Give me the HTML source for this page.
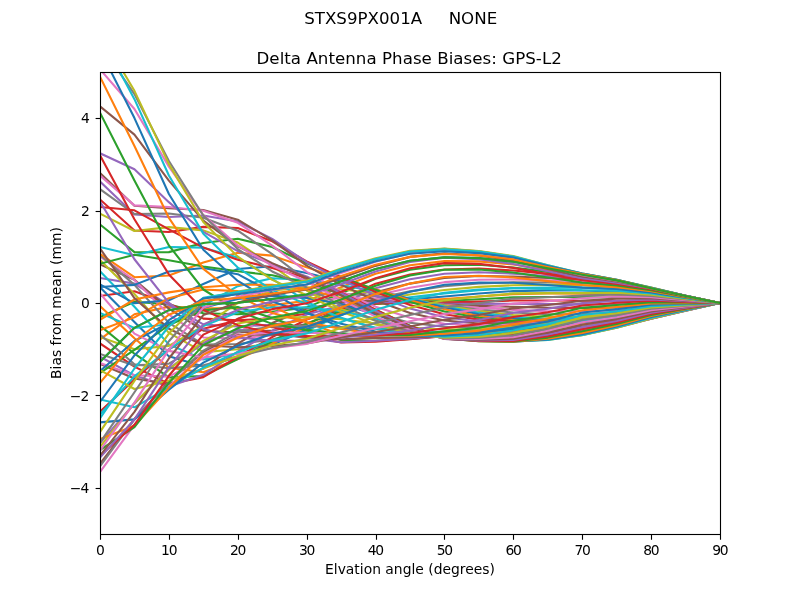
<!DOCTYPE html>
<html lang="en"><head><meta charset="utf-8"><title>STXS9PX001A NONE - Delta Antenna Phase Biases: GPS-L2</title>
<style>html,body{margin:0;padding:0;background:#fff;overflow:hidden}svg{display:block}text{font-family:"DejaVu Sans","Liberation Sans",sans-serif;fill:#000;white-space:pre}.t10{font-size:13.889px}.t12{font-size:16.667px}.m{text-anchor:middle}.e{text-anchor:end}.ln polyline{fill:none;stroke-width:2.0833;stroke-linejoin:round;stroke-linecap:square}.tk line{stroke:#000;stroke-width:1.1111}</style></head>
<body>
<svg width="800" height="600" viewBox="0 0 800 600">
<rect x="0" y="0" width="800" height="600" fill="#fff"/>
<defs><clipPath id="axclip"><rect x="100" y="72" width="620" height="462"/></clipPath></defs>
<g class="tk">
<line x1="100.5" y1="534.5" x2="100.5" y2="539.75"/>
<line x1="169.5" y1="534.5" x2="169.5" y2="539.75"/>
<line x1="238.5" y1="534.5" x2="238.5" y2="539.75"/>
<line x1="307.5" y1="534.5" x2="307.5" y2="539.75"/>
<line x1="376.5" y1="534.5" x2="376.5" y2="539.75"/>
<line x1="444.5" y1="534.5" x2="444.5" y2="539.75"/>
<line x1="513.5" y1="534.5" x2="513.5" y2="539.75"/>
<line x1="582.5" y1="534.5" x2="582.5" y2="539.75"/>
<line x1="651.5" y1="534.5" x2="651.5" y2="539.75"/>
<line x1="720.5" y1="534.5" x2="720.5" y2="539.75"/>
<line x1="95.6" y1="488.5" x2="100.5" y2="488.5"/>
<line x1="95.6" y1="395.5" x2="100.5" y2="395.5"/>
<line x1="95.6" y1="303.5" x2="100.5" y2="303.5"/>
<line x1="95.6" y1="211.5" x2="100.5" y2="211.5"/>
<line x1="95.6" y1="118.5" x2="100.5" y2="118.5"/>
</g>
<g class="t10 m">
<text x="100.40" y="555.3">0</text>
<text x="169.29" y="555.3" textLength="16.35" lengthAdjust="spacing">10</text>
<text x="238.18" y="555.3" textLength="16.35" lengthAdjust="spacing">20</text>
<text x="307.07" y="555.3" textLength="16.35" lengthAdjust="spacing">30</text>
<text x="375.96" y="555.3" textLength="16.35" lengthAdjust="spacing">40</text>
<text x="444.84" y="555.3" textLength="16.35" lengthAdjust="spacing">50</text>
<text x="513.73" y="555.3" textLength="16.35" lengthAdjust="spacing">60</text>
<text x="582.62" y="555.3" textLength="16.35" lengthAdjust="spacing">70</text>
<text x="651.51" y="555.3" textLength="16.35" lengthAdjust="spacing">80</text>
<text x="720.40" y="555.3" textLength="16.35" lengthAdjust="spacing">90</text>
<text x="410" y="574.3">Elvation angle (degrees)</text>
</g>
<g class="t10 e">
<text x="89.4" y="493.08" textLength="19.6" lengthAdjust="spacing">−4</text>
<text x="89.4" y="400.68" textLength="19.6" lengthAdjust="spacing">−2</text>
<text x="89.8" y="308.28">0</text>
<text x="89.8" y="215.88">2</text>
<text x="89.8" y="123.48">4</text>
</g>
<text class="t10 m" x="61.36" y="303" transform="rotate(-90 61.36 303)">Bias from mean (mm)</text>
<text class="t12 m" x="409.15" y="63.67" textLength="305.3" lengthAdjust="spacing">Delta Antenna Phase Biases: GPS-L2</text>
<text class="t12 m" x="400.7" y="23.8" xml:space="preserve">STXS9PX001A     NONE</text>
<g class="ln" clip-path="url(#axclip)">
<polyline stroke="#1f77b4" points="100.00,361.75 134.44,327.82 168.89,310.18 203.33,304.13 237.78,302.78 272.22,298.95 306.67,294.56 341.11,281.22 375.56,269.04 410.00,260.77 444.44,257.34 478.89,258.15 513.33,261.78 547.78,268.34 582.22,274.65 616.67,280.38 651.11,288.33 685.56,295.97 720.00,303.00"/>
<polyline stroke="#ff7f0e" points="100.00,339.41 134.44,314.25 168.89,306.64 203.33,308.41 237.78,308.27 272.22,305.13 306.67,300.87 341.11,287.22 375.56,273.83 410.00,265.17 444.44,261.12 478.89,261.34 513.33,264.53 547.78,270.03 582.22,275.44 616.67,280.80 651.11,288.46 685.56,295.94 720.00,303.00"/>
<polyline stroke="#2ca02c" points="100.00,317.03 134.44,301.78 168.89,304.40 203.33,313.29 237.78,314.20 272.22,311.72 306.67,307.40 341.11,293.40 375.56,278.80 410.00,269.84 444.44,265.19 478.89,264.82 513.33,267.50 547.78,271.90 582.22,276.36 616.67,281.28 651.11,288.52 685.56,295.86 720.00,303.00"/>
<polyline stroke="#d62728" points="100.00,296.03 134.44,291.27 168.89,303.79 203.33,318.65 237.78,320.31 272.22,318.35 306.67,313.67 341.11,299.28 375.56,283.65 410.00,274.58 444.44,269.42 478.89,268.48 513.33,270.56 547.78,273.88 582.22,277.38 616.67,281.82 651.11,288.56 685.56,295.77 720.00,303.00"/>
<polyline stroke="#9467bd" points="100.00,277.97 134.44,283.64 168.89,305.12 203.33,324.45 237.78,326.46 272.22,324.67 306.67,319.28 341.11,304.48 375.56,288.16 410.00,279.21 444.44,273.71 478.89,272.22 513.33,273.62 547.78,275.93 582.22,278.53 616.67,282.46 651.11,288.62 685.56,295.71 720.00,303.00"/>
<polyline stroke="#8c564b" points="100.00,264.35 134.44,279.69 168.89,308.68 203.33,330.71 237.78,332.54 272.22,330.44 306.67,323.92 341.11,308.73 375.56,292.16 410.00,283.61 444.44,277.98 478.89,275.99 513.33,276.61 547.78,278.02 582.22,279.82 616.67,283.26 651.11,288.80 685.56,295.72 720.00,303.00"/>
<polyline stroke="#e377c2" points="100.00,256.41 134.44,280.01 168.89,314.59 203.33,337.46 237.78,338.45 272.22,335.44 306.67,327.40 341.11,311.87 375.56,295.59 410.00,287.68 444.44,282.16 478.89,279.72 513.33,279.53 547.78,280.17 582.22,281.32 616.67,284.27 651.11,289.19 685.56,295.87 720.00,303.00"/>
<polyline stroke="#7f7f7f" points="100.00,254.91 134.44,284.84 168.89,322.77 203.33,344.65 237.78,344.08 272.22,339.50 306.67,329.64 341.11,313.90 375.56,298.40 410.00,291.35 444.44,286.18 478.89,283.37 513.33,282.39 547.78,282.42 582.22,283.08 616.67,285.59 651.11,289.87 685.56,296.21 720.00,303.00"/>
<polyline stroke="#bcbd22" points="100.00,260.02 134.44,293.97 168.89,332.91 203.33,352.13 237.78,349.26 272.22,342.50 306.67,330.64 341.11,314.87 375.56,300.62 410.00,294.55 444.44,289.95 478.89,286.91 513.33,285.24 547.78,284.84 582.22,285.16 616.67,287.26 651.11,290.93 685.56,296.76 720.00,303.00"/>
<polyline stroke="#17becf" points="100.00,271.19 134.44,306.72 168.89,344.40 203.33,359.57 237.78,353.74 272.22,344.31 306.67,330.46 341.11,314.92 375.56,302.27 410.00,297.25 444.44,293.40 478.89,290.29 513.33,288.13 547.78,287.47 582.22,287.61 616.67,289.33 651.11,292.39 685.56,297.55 720.00,303.00"/>
<polyline stroke="#1f77b4" points="100.00,287.18 134.44,321.96 168.89,356.37 203.33,366.49 237.78,357.17 272.22,344.81 306.67,329.18 341.11,314.18 375.56,303.36 410.00,299.39 444.44,296.44 478.89,293.48 513.33,291.09 547.78,290.36 582.22,290.43 616.67,291.81 651.11,294.25 685.56,298.56 720.00,303.00"/>
<polyline stroke="#ff7f0e" points="100.00,306.11 134.44,338.20 168.89,367.75 203.33,372.24 237.78,359.12 272.22,343.86 306.67,326.89 341.11,312.80 375.56,303.92 410.00,300.96 444.44,299.01 478.89,296.45 513.33,294.15 547.78,293.52 582.22,293.61 616.67,294.65 651.11,296.46 685.56,299.75 720.00,303.00"/>
<polyline stroke="#2ca02c" points="100.00,325.67 134.44,353.70 168.89,377.36 203.33,376.04 237.78,359.14 272.22,341.31 306.67,323.66 341.11,310.86 375.56,303.92 410.00,301.93 444.44,301.07 478.89,299.18 513.33,297.31 547.78,296.92 582.22,297.06 616.67,297.77 651.11,298.92 685.56,301.06 720.00,303.00"/>
<polyline stroke="#d62728" points="100.00,343.37 134.44,366.65 168.89,383.99 203.33,377.14 237.78,356.78 272.22,337.04 306.67,319.53 341.11,308.40 375.56,303.35 410.00,302.32 444.44,302.61 478.89,301.66 513.33,300.54 547.78,300.50 582.22,300.69 616.67,301.04 651.11,301.49 685.56,302.42 720.00,303.00"/>
<polyline stroke="#9467bd" points="100.00,356.78 134.44,375.38 168.89,386.57 203.33,374.83 237.78,351.66 272.22,330.96 306.67,314.51 341.11,305.43 375.56,302.22 410.00,302.20 444.44,303.67 478.89,303.89 513.33,303.76 547.78,304.16 582.22,304.35 616.67,304.32 651.11,304.03 685.56,303.74 720.00,303.00"/>
<polyline stroke="#8c564b" points="100.00,363.83 134.44,378.55 168.89,384.27 203.33,368.60 237.78,343.59 272.22,323.06 306.67,308.66 341.11,301.97 375.56,300.55 410.00,301.65 444.44,304.36 478.89,305.90 513.33,306.90 547.78,307.77 582.22,307.88 616.67,307.42 651.11,306.37 685.56,304.94 720.00,303.00"/>
<polyline stroke="#e377c2" points="100.00,363.10 134.44,375.30 168.89,376.63 203.33,358.22 237.78,332.58 272.22,313.48 306.67,302.05 341.11,298.04 375.56,298.43 410.00,300.84 444.44,304.80 478.89,307.73 513.33,309.86 547.78,311.17 582.22,311.12 616.67,310.19 651.11,308.38 685.56,305.94 720.00,303.00"/>
<polyline stroke="#7f7f7f" points="100.00,354.01 134.44,365.40 168.89,363.67 203.33,343.84 237.78,318.92 272.22,302.48 306.67,294.87 341.11,293.75 375.56,296.03 410.00,299.95 444.44,305.17 478.89,309.43 513.33,312.56 547.78,314.22 582.22,313.93 616.67,312.49 651.11,309.96 685.56,306.70 720.00,303.00"/>
<polyline stroke="#bcbd22" points="100.00,336.87 134.44,349.27 168.89,345.87 203.33,325.98 237.78,303.18 272.22,290.52 306.67,287.37 341.11,289.30 375.56,293.59 410.00,299.21 444.44,305.65 478.89,311.05 513.33,314.94 547.78,316.81 582.22,316.20 616.67,314.23 651.11,311.04 685.56,307.21 720.00,303.00"/>
<polyline stroke="#17becf" points="100.00,312.96 134.44,328.01 168.89,324.23 203.33,305.59 237.78,286.18 272.22,278.21 306.67,279.95 341.11,284.99 375.56,291.41 410.00,298.85 444.44,306.41 478.89,312.65 513.33,316.96 547.78,318.85 582.22,317.87 616.67,315.38 651.11,311.64 685.56,307.46 720.00,303.00"/>
<polyline stroke="#1f77b4" points="100.00,284.38 134.44,303.29 168.89,300.19 203.33,283.94 237.78,268.98 272.22,266.30 306.67,273.10 341.11,281.22 375.56,289.83 410.00,299.11 444.44,307.59 478.89,314.29 513.33,318.61 547.78,320.33 582.22,318.94 616.67,315.96 651.11,311.79 685.56,307.50 720.00,303.00"/>
<polyline stroke="#ff7f0e" points="100.00,253.86 134.44,277.22 168.89,275.50 203.33,262.53 237.78,252.77 272.22,255.64 306.67,267.37 341.11,278.43 375.56,289.21 410.00,300.14 444.44,309.27 478.89,315.99 513.33,319.93 547.78,321.27 582.22,319.46 616.67,316.06 651.11,311.61 685.56,307.38 720.00,303.00"/>
<polyline stroke="#2ca02c" points="100.00,224.51 134.44,252.18 168.89,252.12 203.33,242.99 237.78,238.74 272.22,247.05 306.67,263.33 341.11,277.09 375.56,289.84 410.00,302.07 444.44,311.48 478.89,317.77 513.33,320.99 547.78,321.76 582.22,319.54 616.67,315.81 651.11,311.23 685.56,307.18 720.00,303.00"/>
<polyline stroke="#d62728" points="100.00,199.46 134.44,230.53 168.89,232.01 203.33,226.88 237.78,228.00 272.22,241.29 306.67,261.49 341.11,277.57 375.56,291.91 410.00,304.91 444.44,314.16 478.89,319.64 513.33,321.88 547.78,321.93 582.22,319.34 616.67,315.37 651.11,310.78 685.56,306.97 720.00,303.00"/>
<polyline stroke="#9467bd" points="100.00,181.57 134.44,214.46 168.89,216.94 203.33,215.55 237.78,221.45 272.22,238.96 306.67,262.23 341.11,280.14 375.56,295.50 410.00,308.60 444.44,317.20 478.89,321.55 513.33,322.69 547.78,321.96 582.22,319.03 616.67,314.92 651.11,310.43 685.56,306.82 720.00,303.00"/>
<polyline stroke="#8c564b" points="100.00,173.10 134.44,205.70 168.89,208.32 203.33,209.99 237.78,219.65 272.22,240.37 306.67,265.71 341.11,284.85 375.56,300.51 410.00,312.96 444.44,320.44 478.89,323.49 513.33,323.52 547.78,322.00 582.22,318.79 616.67,314.62 651.11,310.27 685.56,306.78 720.00,303.00"/>
<polyline stroke="#e377c2" points="100.00,175.50 134.44,205.41 168.89,207.08 203.33,210.72 237.78,222.81 272.22,245.55 306.67,271.85 341.11,291.55 375.56,306.69 410.00,317.76 444.44,323.69 478.89,325.41 513.33,324.46 547.78,322.23 582.22,318.77 616.67,314.62 651.11,310.41 685.56,306.88 720.00,303.00"/>
<polyline stroke="#7f7f7f" points="100.00,189.21 134.44,213.98 168.89,213.49 203.33,217.72 237.78,230.67 272.22,254.16 306.67,280.32 341.11,299.82 375.56,313.63 410.00,322.69 444.44,326.77 478.89,327.27 513.33,325.55 547.78,322.76 582.22,319.10 616.67,315.00 651.11,310.86 685.56,307.14 720.00,303.00"/>
<polyline stroke="#bcbd22" points="100.00,213.60 134.44,231.00 168.89,227.16 203.33,230.39 237.78,242.58 272.22,265.56 306.67,290.50 341.11,309.06 375.56,320.81 410.00,327.42 444.44,329.51 478.89,329.02 513.33,326.83 547.78,323.68 582.22,319.87 616.67,315.79 651.11,311.62 685.56,307.54 720.00,303.00"/>
<polyline stroke="#17becf" points="100.00,247.02 134.44,255.27 168.89,247.02 203.33,247.65 237.78,257.52 272.22,278.81 306.67,301.58 341.11,318.50 375.56,327.65 410.00,331.64 444.44,331.80 478.89,330.65 513.33,328.29 547.78,325.02 582.22,321.07 616.67,316.98 651.11,312.63 685.56,308.05 720.00,303.00"/>
<polyline stroke="#1f77b4" points="100.00,286.93 134.44,284.90 168.89,271.42 203.33,267.96 237.78,274.19 272.22,292.78 306.67,312.60 341.11,327.30 375.56,333.59 410.00,335.09 444.44,333.58 478.89,332.15 513.33,329.89 547.78,326.73 582.22,322.68 616.67,318.49 651.11,313.81 685.56,308.61 720.00,303.00"/>
<polyline stroke="#ff7f0e" points="100.00,330.12 134.44,317.39 168.89,298.21 203.33,289.51 237.78,291.15 272.22,306.25 306.67,322.57 341.11,334.65 375.56,338.13 410.00,337.56 444.44,334.84 478.89,333.50 513.33,331.59 547.78,328.74 582.22,324.61 616.67,320.21 651.11,315.05 685.56,309.19 720.00,303.00"/>
<polyline stroke="#2ca02c" points="100.00,372.96 134.44,349.92 168.89,325.00 203.33,310.39 237.78,306.93 272.22,318.03 306.67,330.59 341.11,339.88 375.56,340.91 410.00,338.96 444.44,335.65 478.89,334.74 513.33,333.32 547.78,330.92 582.22,326.72 616.67,322.00 651.11,316.24 685.56,309.73 720.00,303.00"/>
<polyline stroke="#d62728" points="100.00,411.75 134.44,379.53 168.89,349.32 203.33,328.74 237.78,320.19 272.22,327.11 306.67,335.92 341.11,342.49 375.56,341.76 410.00,339.28 444.44,336.09 478.89,335.86 513.33,335.01 547.78,333.12 582.22,328.87 616.67,323.73 651.11,317.28 685.56,310.18 720.00,303.00"/>
<polyline stroke="#9467bd" points="100.00,443.02 134.44,403.39 168.89,368.85 203.33,342.91 237.78,329.83 272.22,332.71 306.67,338.10 341.11,342.29 375.56,340.68 410.00,338.64 444.44,336.29 478.89,336.88 513.33,336.60 547.78,335.20 582.22,330.89 616.67,325.25 651.11,318.09 685.56,310.51 720.00,303.00"/>
<polyline stroke="#8c564b" points="100.00,463.83 134.44,419.08 168.89,381.66 203.33,351.67 237.78,335.11 272.22,334.42 306.67,336.98 341.11,339.38 375.56,337.89 410.00,337.20 444.44,336.37 478.89,337.82 513.33,338.03 547.78,337.01 582.22,332.65 616.67,326.46 651.11,318.62 685.56,310.71 720.00,303.00"/>
<polyline stroke="#e377c2" points="100.00,472.02 134.44,424.78 168.89,386.39 203.33,354.28 237.78,335.68 272.22,332.21 306.67,332.73 341.11,334.13 375.56,333.76 410.00,335.22 444.44,336.44 478.89,338.68 513.33,339.27 547.78,338.45 582.22,334.00 616.67,327.29 651.11,318.84 685.56,310.77 720.00,303.00"/>
<polyline stroke="#7f7f7f" points="100.00,466.41 134.44,419.48 168.89,382.38 203.33,350.54 237.78,331.65 272.22,326.44 306.67,325.87 341.11,327.16 375.56,328.80 410.00,332.97 444.44,336.57 478.89,339.44 513.33,340.27 547.78,339.44 582.22,334.87 616.67,327.70 651.11,318.76 685.56,310.69 720.00,303.00"/>
<polyline stroke="#bcbd22" points="100.00,446.91 134.44,403.06 168.89,369.75 203.33,340.85 237.78,323.54 272.22,317.79 306.67,317.14 341.11,319.25 375.56,323.56 410.00,330.71 444.44,336.80 478.89,340.09 513.33,341.04 547.78,339.94 582.22,335.19 616.67,327.68 651.11,318.40 685.56,310.49 720.00,303.00"/>
<polyline stroke="#17becf" points="100.00,414.48 134.44,376.33 168.89,349.39 203.33,326.11 237.78,312.23 272.22,307.23 306.67,307.47 341.11,311.25 375.56,318.61 410.00,328.70 444.44,337.13 478.89,340.60 513.33,341.54 547.78,339.97 582.22,334.96 616.67,327.26 651.11,317.80 685.56,310.18 720.00,303.00"/>
<polyline stroke="#1f77b4" points="100.00,371.13 134.44,341.00 168.89,322.89 203.33,307.68 237.78,298.87 272.22,295.86 306.67,297.86 341.11,303.97 375.56,314.43 410.00,327.13 444.44,337.54 478.89,340.95 513.33,341.79 547.78,339.55 582.22,334.19 616.67,326.48 651.11,317.01 685.56,309.79 720.00,303.00"/>
<polyline stroke="#ff7f0e" points="100.00,319.72 134.44,299.50 168.89,292.37 203.33,287.23 237.78,284.78 272.22,284.85 306.67,289.24 341.11,298.11 375.56,311.41 410.00,326.14 444.44,337.97 478.89,341.12 513.33,341.76 547.78,338.73 582.22,332.95 616.67,325.39 651.11,316.07 685.56,309.34 720.00,303.00"/>
<polyline stroke="#2ca02c" points="100.00,263.72 134.44,254.84 168.89,260.34 203.33,266.58 237.78,271.30 272.22,275.29 306.67,282.43 341.11,294.18 375.56,309.79 410.00,325.79 444.44,338.37 478.89,341.10 513.33,341.46 547.78,337.59 582.22,331.30 616.67,324.07 651.11,315.01 685.56,308.83 720.00,303.00"/>
<polyline stroke="#d62728" points="100.00,206.96 134.44,210.32 168.89,229.43 203.33,247.56 237.78,259.71 272.22,268.09 306.67,278.04 341.11,292.46 375.56,309.63 410.00,326.09 444.44,338.68 478.89,340.87 513.33,340.86 547.78,336.18 582.22,329.32 616.67,322.55 651.11,313.87 685.56,308.29 720.00,303.00"/>
<polyline stroke="#9467bd" points="100.00,153.32 134.44,169.24 168.89,202.14 203.33,231.81 237.78,251.08 272.22,263.91 306.67,276.41 341.11,292.98 375.56,310.88 410.00,326.97 444.44,338.86 478.89,340.44 513.33,339.96 547.78,334.57 582.22,327.11 616.67,320.88 651.11,312.66 685.56,307.70 720.00,303.00"/>
<polyline stroke="#8c564b" points="100.00,106.41 134.44,134.63 168.89,180.66 203.33,220.69 237.78,246.19 272.22,263.10 306.67,277.61 341.11,295.56 375.56,313.32 410.00,328.30 444.44,338.88 478.89,339.81 513.33,338.74 547.78,332.77 582.22,324.75 616.67,319.10 651.11,311.41 685.56,307.09 720.00,303.00"/>
<polyline stroke="#e377c2" points="100.00,69.28 134.44,109.00 168.89,166.62 203.33,215.13 237.78,245.50 272.22,265.70 306.67,281.46 341.11,299.84 375.56,316.65 410.00,329.94 444.44,338.71 478.89,338.97 513.33,337.19 547.78,330.83 582.22,322.31 616.67,317.24 651.11,310.12 685.56,306.45 720.00,303.00"/>
<polyline stroke="#7f7f7f" points="100.00,44.23 134.44,94.11 168.89,161.03 203.33,215.56 237.78,249.08 272.22,271.45 306.67,287.56 341.11,305.34 375.56,320.52 410.00,331.69 444.44,338.33 478.89,337.92 513.33,335.30 547.78,328.73 582.22,319.84 616.67,315.30 651.11,308.80 685.56,305.79 720.00,303.00"/>
<polyline stroke="#bcbd22" points="100.00,32.59 134.44,90.83 168.89,164.14 203.33,221.92 237.78,256.64 272.22,279.83 306.67,295.32 341.11,311.53 375.56,324.55 410.00,333.35 444.44,337.71 478.89,336.62 513.33,333.07 547.78,326.48 582.22,317.38 616.67,313.30 651.11,307.45 685.56,305.13 720.00,303.00"/>
<polyline stroke="#17becf" points="100.00,34.71 134.44,99.14 168.89,175.48 203.33,233.64 237.78,267.57 272.22,290.11 306.67,304.11 341.11,317.86 375.56,328.36 410.00,334.72 444.44,336.79 478.89,335.02 513.33,330.50 547.78,324.05 582.22,314.94 616.67,311.25 651.11,306.10 685.56,304.46 720.00,303.00"/>
<polyline stroke="#1f77b4" points="100.00,49.92 134.44,118.09 168.89,193.96 203.33,249.72 237.78,280.97 272.22,301.46 306.67,313.21 341.11,323.85 375.56,331.63 410.00,335.59 444.44,335.50 478.89,333.06 513.33,327.60 547.78,321.42 582.22,312.55 616.67,309.16 651.11,304.75 685.56,303.80 720.00,303.00"/>
<polyline stroke="#ff7f0e" points="100.00,76.68 134.44,145.99 168.89,217.94 203.33,268.85 237.78,295.80 272.22,313.00 306.67,321.97 341.11,329.07 375.56,334.06 410.00,335.75 444.44,333.73 478.89,330.65 513.33,324.37 547.78,318.59 582.22,310.19 616.67,307.05 651.11,303.41 685.56,303.14 720.00,303.00"/>
<polyline stroke="#2ca02c" points="100.00,112.70 134.44,180.57 168.89,245.46 203.33,289.50 237.78,310.90 272.22,323.89 306.67,329.79 341.11,333.23 375.56,335.45 410.00,335.04 444.44,331.38 478.89,327.70 513.33,320.83 547.78,315.53 582.22,307.85 616.67,304.92 651.11,302.10 685.56,302.51 720.00,303.00"/>
<polyline stroke="#d62728" points="100.00,155.27 134.44,219.22 168.89,274.41 203.33,310.07 237.78,325.15 272.22,333.38 306.67,336.18 341.11,336.07 375.56,335.62 410.00,333.30 444.44,328.32 478.89,324.14 513.33,316.97 547.78,312.24 582.22,305.50 616.67,302.81 651.11,300.82 685.56,301.89 720.00,303.00"/>
<polyline stroke="#9467bd" points="100.00,201.44 134.44,259.24 168.89,302.78 203.33,329.07 237.78,337.52 272.22,340.86 306.67,340.79 341.11,337.47 375.56,334.48 410.00,330.45 444.44,324.45 478.89,319.91 513.33,312.80 547.78,308.74 582.22,303.11 616.67,300.70 651.11,299.57 685.56,301.29 720.00,303.00"/>
<polyline stroke="#8c564b" points="100.00,248.34 134.44,298.11 168.89,328.74 203.33,345.21 237.78,347.20 272.22,345.92 306.67,343.39 341.11,337.34 375.56,331.99 410.00,326.41 444.44,319.69 478.89,314.98 513.33,308.34 547.78,305.04 582.22,300.68 616.67,298.63 651.11,298.33 685.56,300.69 720.00,303.00"/>
<polyline stroke="#e377c2" points="100.00,293.38 134.44,333.68 168.89,350.89 203.33,357.50 237.78,353.62 272.22,348.34 306.67,343.86 341.11,335.67 375.56,328.16 410.00,321.22 444.44,314.03 478.89,309.37 513.33,303.59 547.78,301.17 582.22,298.18 616.67,296.58 651.11,297.12 685.56,300.10 720.00,303.00"/>
<polyline stroke="#7f7f7f" points="100.00,334.48 134.44,364.31 168.89,368.28 203.33,365.37 237.78,356.51 272.22,348.08 306.67,342.24 341.11,332.50 375.56,323.08 410.00,314.95 444.44,307.54 478.89,303.17 513.33,298.59 547.78,297.17 582.22,295.60 616.67,294.57 651.11,295.91 685.56,299.51 720.00,303.00"/>
<polyline stroke="#bcbd22" points="100.00,370.15 134.44,388.99 168.89,380.45 203.33,368.63 237.78,355.92 272.22,345.31 306.67,338.67 341.11,327.91 375.56,316.87 410.00,307.77 444.44,300.34 478.89,296.50 513.33,293.39 547.78,293.09 582.22,292.96 616.67,292.61 651.11,294.71 685.56,298.91 720.00,303.00"/>
<polyline stroke="#17becf" points="100.00,399.54 134.44,407.29 168.89,387.43 203.33,367.53 237.78,352.15 272.22,340.36 306.67,333.39 341.11,322.07 375.56,309.74 410.00,299.92 444.44,292.67 478.89,289.57 513.33,288.06 547.78,289.01 582.22,290.29 616.67,290.70 651.11,293.51 685.56,298.32 720.00,303.00"/>
<polyline stroke="#1f77b4" points="100.00,422.41 134.44,419.35 168.89,389.65 203.33,362.65 237.78,345.78 272.22,333.69 306.67,326.75 341.11,315.19 375.56,301.97 410.00,291.68 444.44,284.78 478.89,282.59 513.33,282.71 547.78,284.98 582.22,287.62 616.67,288.86 651.11,292.35 685.56,297.75 720.00,303.00"/>
<polyline stroke="#ff7f0e" points="100.00,439.00 134.44,425.71 168.89,387.84 203.33,354.85 237.78,337.55 272.22,325.86 306.67,319.17 341.11,307.57 375.56,293.88 410.00,283.41 444.44,277.02 478.89,275.81 513.33,277.46 547.78,281.11 582.22,285.00 616.67,287.10 651.11,291.24 685.56,297.21 720.00,303.00"/>
<polyline stroke="#2ca02c" points="100.00,449.88 134.44,427.22 168.89,382.90 203.33,345.16 237.78,328.30 272.22,317.47 306.67,311.13 341.11,299.59 375.56,285.84 410.00,275.46 444.44,269.69 478.89,269.49 513.33,272.47 547.78,277.47 582.22,282.51 616.67,285.46 651.11,290.21 685.56,296.72 720.00,303.00"/>
<polyline stroke="#d62728" points="100.00,455.79 134.44,424.82 168.89,375.78 203.33,334.65 237.78,318.87 272.22,309.15 306.67,303.16 341.11,291.67 375.56,278.24 410.00,268.19 444.44,263.13 478.89,263.87 513.33,267.89 547.78,274.16 582.22,280.22 616.67,283.97 651.11,289.32 685.56,296.31 720.00,303.00"/>
<polyline stroke="#9467bd" points="100.00,457.51 134.44,419.43 168.89,367.40 203.33,324.34 237.78,310.08 272.22,301.48 306.67,295.77 341.11,284.28 375.56,271.47 410.00,261.92 444.44,257.60 478.89,259.13 513.33,263.90 547.78,271.27 582.22,278.18 616.67,282.67 651.11,288.59 685.56,295.99 720.00,303.00"/>
<polyline stroke="#8c564b" points="100.00,455.64 134.44,411.86 168.89,358.50 203.33,315.08 237.78,302.57 272.22,294.98 306.67,289.47 341.11,277.90 375.56,265.87 410.00,256.91 444.44,253.30 478.89,255.43 513.33,260.63 547.78,268.89 582.22,276.47 616.67,281.59 651.11,288.04 685.56,295.78 720.00,303.00"/>
<polyline stroke="#e377c2" points="100.00,450.64 134.44,402.67 168.89,349.66 203.33,307.53 237.78,296.83 272.22,290.05 306.67,284.66 341.11,272.93 375.56,261.71 410.00,253.33 444.44,250.34 478.89,252.84 513.33,258.20 547.78,267.08 582.22,275.13 616.67,280.75 651.11,287.70 685.56,295.67 720.00,303.00"/>
<polyline stroke="#7f7f7f" points="100.00,442.72 134.44,392.27 168.89,341.27 203.33,302.06 237.78,293.15 272.22,286.97 306.67,281.66 341.11,269.72 375.56,259.18 410.00,251.29 444.44,248.75 478.89,251.39 513.33,256.69 547.78,265.88 582.22,274.18 616.67,280.16 651.11,287.56 685.56,295.65 720.00,303.00"/>
<polyline stroke="#bcbd22" points="100.00,431.95 134.44,380.84 168.89,333.52 203.33,298.80 237.78,291.59 272.22,285.86 306.67,280.65 341.11,268.45 375.56,258.33 410.00,250.75 444.44,248.46 478.89,251.02 513.33,256.11 547.78,265.30 582.22,273.63 616.67,279.83 651.11,287.58 685.56,295.70 720.00,303.00"/>
<polyline stroke="#17becf" points="100.00,418.32 134.44,368.52 168.89,326.50 203.33,297.68 237.78,292.06 272.22,286.71 306.67,281.65 341.11,269.17 375.56,259.11 410.00,251.63 444.44,249.36 478.89,251.65 513.33,256.43 547.78,265.32 582.22,273.45 616.67,279.72 651.11,287.72 685.56,295.79 720.00,303.00"/>
<polyline stroke="#1f77b4" points="100.00,401.88 134.44,355.42 168.89,320.24 203.33,298.42 237.78,294.31 272.22,289.37 306.67,284.51 341.11,271.74 375.56,261.34 410.00,253.75 444.44,251.27 478.89,253.15 513.33,257.57 547.78,265.89 582.22,273.59 616.67,279.81 651.11,287.93 685.56,295.88 720.00,303.00"/>
<polyline stroke="#ff7f0e" points="100.00,382.85 134.44,341.73 168.89,314.77 203.33,300.70 237.78,298.01 272.22,293.56 306.67,288.94 341.11,275.90 375.56,264.76 410.00,256.88 444.44,253.99 478.89,255.37 513.33,259.40 547.78,266.93 582.22,274.01 616.67,280.04 651.11,288.15 685.56,295.95 720.00,303.00"/>
<polyline stroke="#2ca02c" points="100.00,361.75 134.44,327.82 168.89,310.18 203.33,304.13 237.78,302.78 272.22,298.95 306.67,294.56 341.11,281.22 375.56,269.04 410.00,260.77 444.44,257.34 478.89,258.15 513.33,261.78 547.78,268.34 582.22,274.65 616.67,280.38 651.11,288.33 685.56,295.97 720.00,303.00"/>
</g>
<rect x="100.5" y="72.5" width="620" height="462" fill="none" stroke="#000" stroke-width="1.1111"/>
</svg>
</body></html>
